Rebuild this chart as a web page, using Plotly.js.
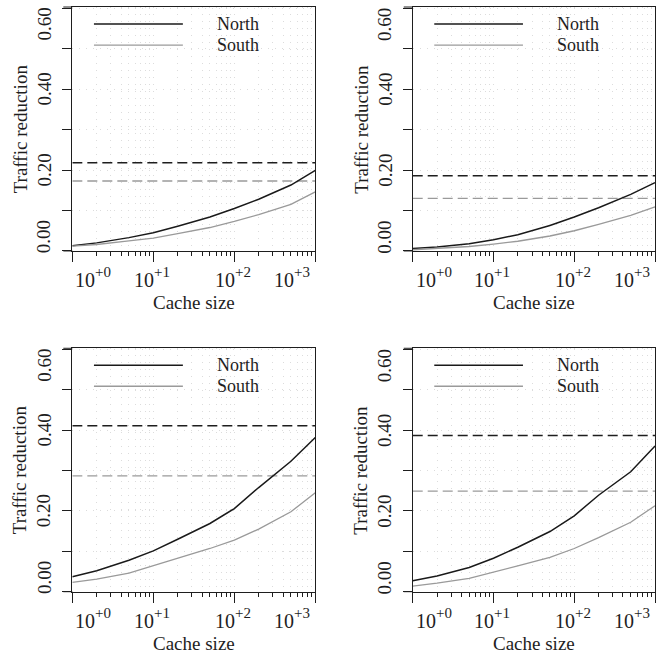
<!DOCTYPE html>
<html><head><meta charset="utf-8">
<script src="https://cdn.plot.ly/plotly-3.0.1.min.js"></script>
<style>html,body{margin:0;padding:0;background:#fff}#chart{width:669px;height:657px}</style>
</head><body><div id="chart"></div>
<script>
// ---- data ----
const cacheSize = [1, 2, 5, 10, 20, 50, 100, 200, 500, 1000];

const northP1 = [0.013, 0.020, 0.033, 0.045, 0.061, 0.084, 0.105, 0.128, 0.163, 0.199];
const southP1 = [0.012, 0.016, 0.025, 0.032, 0.043, 0.058, 0.073, 0.090, 0.115, 0.146];
const northP2 = [0.006, 0.010, 0.018, 0.028, 0.040, 0.063, 0.084, 0.107, 0.140, 0.169];
const southP2 = [0.003, 0.006, 0.011, 0.017, 0.024, 0.037, 0.050, 0.066, 0.088, 0.109];
const northP3 = [0.037, 0.052, 0.078, 0.101, 0.130, 0.169, 0.206, 0.258, 0.323, 0.382];
const southP3 = [0.023, 0.031, 0.046, 0.064, 0.082, 0.107, 0.128, 0.155, 0.198, 0.245];
const northP4 = [0.027, 0.039, 0.060, 0.083, 0.110, 0.149, 0.188, 0.239, 0.297, 0.361];
const southP4 = [0.014, 0.021, 0.033, 0.048, 0.064, 0.085, 0.107, 0.134, 0.172, 0.213];

const northLimit = [0.218, 0.186, 0.411, 0.387];
const southLimit = [0.173, 0.130, 0.287, 0.249];

const seriesNames = ['North', 'South'];
const xTitle = 'Cache size';
const yTitle = 'Traffic reduction';
const xTickVals = [1, 10, 100, 1000];
const xTickBase = ['10', '10', '10', '10'];
const xTickExp = ['+0', '+1', '+2', '+3'];
const xMinorVals = [2,3,4,5,6,7,8,9,20,30,40,50,60,70,80,90,200,300,400,500,600,700,800,900];
const yTickVals = [0, 0.2, 0.4, 0.6];
const yTickText = ['0.00', '0.20', '0.40', '0.60'];
const yGridVals = [0, 0.1, 0.2, 0.3, 0.4, 0.5, 0.6];

// ---- layout helpers ----
const FONT = 'Liberation Serif, DejaVu Serif, serif';
const INK = '#1e1e1e';
const GRID = '#dcdcdc';
const panels = [
  {xa: 'x',  ya: 'y',  xd: [0.1081, 0.4713], yd: [0.6180, 0.9893], north: northP1, south: southP1},
  {xa: 'x2', ya: 'y2', xd: [0.6169, 0.9791], yd: [0.6180, 0.9893], north: northP2, south: southP2},
  {xa: 'x3', ya: 'y3', xd: [0.1081, 0.4713], yd: [0.0994, 0.4699], north: northP3, south: southP3},
  {xa: 'x4', ya: 'y4', xd: [0.6169, 0.9791], yd: [0.0994, 0.4699], north: northP4, south: southP4}
];

const traces = [];
const annotations = [];
const shapes = [];
const layout = {
  width: 669, height: 657,
  margin: {l: 0, r: 0, t: 0, b: 0},
  paper_bgcolor: '#fff', plot_bgcolor: '#fff',
  showlegend: false,
  font: {family: FONT, size: 19, color: INK},
  hovermode: false
};

panels.forEach((p, i) => {
  const xKey = 'xaxis' + (i ? i + 1 : '');
  const yKey = 'yaxis' + (i ? i + 1 : '');
  layout[xKey] = {
    type: 'log', range: [0, 3], domain: p.xd, anchor: p.ya,
    showline: true, mirror: true, linecolor: INK, linewidth: 1,
    ticks: 'outside', tickmode: 'array', tickvals: xTickVals, ticklen: 10, tickcolor: INK, tickwidth: 1,
    showticklabels: false, zeroline: false,
    showgrid: true, gridcolor: GRID, griddash: '1px,6px', gridwidth: 1,
    minor: {tickmode: 'array', tickvals: xMinorVals, ticks: 'outside', ticklen: 4, tickcolor: INK, tickwidth: 1,
            showgrid: true, gridcolor: GRID, griddash: '1px,6px', gridwidth: 1}
  };
  layout[yKey] = {
    range: [0, 0.603], domain: p.yd, anchor: p.xa,
    showline: true, mirror: true, linecolor: INK, linewidth: 1,
    ticks: 'outside', tickmode: 'array', tickvals: yGridVals, ticklen: 9, tickcolor: INK, tickwidth: 1,
    showticklabels: false, zeroline: false,
    showgrid: true, gridcolor: GRID, griddash: '1px,6px', gridwidth: 1
  };

  // asymptote dashed lines
  traces.push({x: [cacheSize[0], cacheSize[cacheSize.length - 1]], y: [northLimit[i], northLimit[i]],
    xaxis: p.xa, yaxis: p.ya, mode: 'lines', line: {color: '#1e1e1e', width: 1.5, dash: '10px,5px'}});
  traces.push({x: [cacheSize[0], cacheSize[cacheSize.length - 1]], y: [southLimit[i], southLimit[i]],
    xaxis: p.xa, yaxis: p.ya, mode: 'lines', line: {color: '#9a9a9a', width: 1.3, dash: '10px,5px'}});
  // curves
  traces.push({x: cacheSize, y: p.north, xaxis: p.xa, yaxis: p.ya, mode: 'lines', name: seriesNames[0],
    line: {color: '#1a1a1a', width: 1.5}});
  traces.push({x: cacheSize, y: p.south, xaxis: p.xa, yaxis: p.ya, mode: 'lines', name: seriesNames[1],
    line: {color: '#9a9a9a', width: 1.3}});

  const xdom = p.xa + ' domain', ydom = p.ya + ' domain';
  // frame extensions to the left (tick zone)
  const ext = -9 / 243;
  shapes.push({type: 'line', xref: xdom, yref: ydom, x0: ext, x1: 0, y0: 0, y1: 0, line: {color: INK, width: 1}});
  shapes.push({type: 'line', xref: xdom, yref: ydom, x0: ext, x1: 0, y0: 1, y1: 1, line: {color: INK, width: 1}});

  // legend lines
  shapes.push({type: 'line', xref: xdom, yref: ydom, x0: 0.089, x1: 0.455, y0: 0.930, y1: 0.930, line: {color: '#1a1a1a', width: 1.5}});
  shapes.push({type: 'line', xref: xdom, yref: ydom, x0: 0.089, x1: 0.455, y0: 0.844, y1: 0.844, line: {color: '#9a9a9a', width: 1.3}});
  annotations.push({xref: xdom, yref: ydom, x: 0.587, y: 0.930, xanchor: 'left', yanchor: 'middle', text: seriesNames[0], showarrow: false, font: {size: 18}});
  annotations.push({xref: xdom, yref: ydom, x: 0.587, y: 0.844, xanchor: 'left', yanchor: 'middle', text: seriesNames[1], showarrow: false, font: {size: 18}});

  // y tick labels (rotated)
  yTickVals.forEach((v, k) => {
    const shift = k === 0 ? 14 : (k === yTickVals.length - 1 ? -16 : 0);
    annotations.push({xref: xdom, x: 0, xshift: -28, xanchor: 'center', yref: p.ya, y: v, yshift: shift, yanchor: 'middle',
      text: yTickText[k], textangle: -90, showarrow: false, font: {size: 19}});
  });
  // x tick labels: base and exponent
  xTickVals.forEach((v, k) => {
    const shift = (k === 0 ? 21 : (k === xTickVals.length - 1 ? -23 : -1)) + 2;
    annotations.push({xref: p.xa, x: Math.log10(v), xshift: shift, xanchor: 'right', yref: ydom, y: 0, yshift: -29, yanchor: 'middle',
      text: xTickBase[k], showarrow: false, borderpad: 0, borderwidth: 0, font: {size: 20}});
    annotations.push({xref: p.xa, x: Math.log10(v), xshift: shift, xanchor: 'left', yref: ydom, y: 0, yshift: -21, yanchor: 'middle',
      text: xTickExp[k], showarrow: false, borderpad: 0, borderwidth: 0, font: {size: 15}});
  });
  // axis titles
  annotations.push({xref: xdom, x: 0.5, yref: ydom, y: 0, yshift: -52, xanchor: 'center', yanchor: 'middle',
    text: xTitle, showarrow: false, font: {size: 19}});
  annotations.push({xref: xdom, x: 0, xshift: -52, yref: ydom, y: 0.5, xanchor: 'center', yanchor: 'middle',
    text: yTitle, textangle: -90, showarrow: false, font: {size: 19}});
});

layout.annotations = annotations;
layout.shapes = shapes;
Plotly.newPlot('chart', traces, layout, {staticPlot: true, displayModeBar: false});
</script>
</body></html>
